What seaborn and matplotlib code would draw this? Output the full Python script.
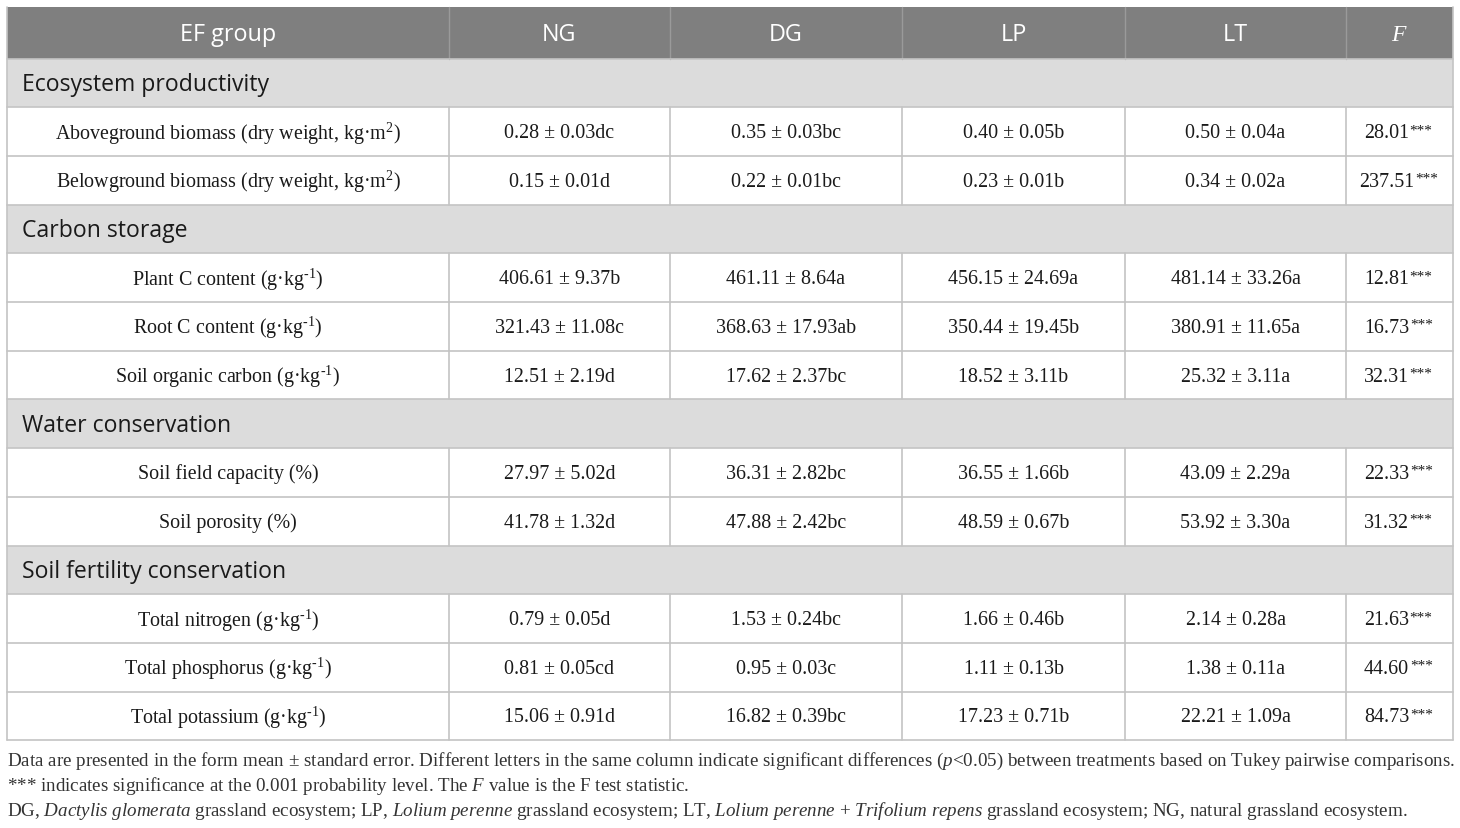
import matplotlib.pyplot as plt
import seaborn as sns
from matplotlib.patches import Rectangle

# table content
columns = ["EF group", "NG", "DG", "LP", "LT", "$\\mathit{F}$"]
groups = ["Ecosystem productivity", "Carbon storage", "Water conservation",
          "Soil fertility conservation"]
group_sizes = [2, 3, 2, 3]
indicators = [
    "Aboveground biomass (dry weight, kg·m$^{2}$)",
    "Belowground biomass (dry weight, kg·m$^{2}$)",
    "Plant C content (g·kg$^{\\text{-1}}$)",
    "Root C content (g·kg$^{\\text{-1}}$)",
    "Soil organic carbon (g·kg$^{\\text{-1}}$)",
    "Soil field capacity (%)",
    "Soil porosity (%)",
    "Total nitrogen (g·kg$^{\\text{-1}}$)",
    "Total phosphorus (g·kg$^{\\text{-1}}$)",
    "Total potassium (g·kg$^{\\text{-1}}$)",
]
ng = ["0.28 ± 0.03dc", "0.15 ± 0.01d", "406.61 ± 9.37b", "321.43 ± 11.08c", "12.51 ± 2.19d",
      "27.97 ± 5.02d", "41.78 ± 1.32d", "0.79 ± 0.05d", "0.81 ± 0.05cd", "15.06 ± 0.91d"]
dg = ["0.35 ± 0.03bc", "0.22 ± 0.01bc", "461.11 ± 8.64a", "368.63 ± 17.93ab", "17.62 ± 2.37bc",
      "36.31 ± 2.82bc", "47.88 ± 2.42bc", "1.53 ± 0.24bc", "0.95 ± 0.03c", "16.82 ± 0.39bc"]
lp = ["0.40 ± 0.05b", "0.23 ± 0.01b", "456.15 ± 24.69a", "350.44 ± 19.45b", "18.52 ± 3.11b",
      "36.55 ± 1.66b", "48.59 ± 0.67b", "1.66 ± 0.46b", "1.11 ± 0.13b", "17.23 ± 0.71b"]
lt = ["0.50 ± 0.04a", "0.34 ± 0.02a", "481.14 ± 33.26a", "380.91 ± 11.65a", "25.32 ± 3.11a",
      "43.09 ± 2.29a", "53.92 ± 3.30a", "2.14 ± 0.28a", "1.38 ± 0.11a", "22.21 ± 1.09a"]
f_vals = ["28.01", "237.51", "12.81", "16.73", "32.31", "22.33", "31.32", "21.63", "44.60", "84.73"]
f_sig = "***"

footnotes = [
    "Data are presented in the form mean ± standard error. Different letters in the same column "
    "indicate significant differences ($\\mathit{p}$<0.05) between treatments based on Tukey pairwise comparisons.",
    "*** indicates significance at the 0.001 probability level. The $\\mathit{F}$ value is the F test statistic.",
    "DG, $\\mathit{Dactylis\\ glomerata}$ grassland ecosystem; LP, $\\mathit{Lolium\\ perenne}$ grassland ecosystem; "
    "LT, $\\mathit{Lolium\\ perenne}$ + $\\mathit{Trifolium\\ repens}$ grassland ecosystem; NG, natural grassland ecosystem.",
]

sns.set_theme(style="white")
plt.rcParams["mathtext.fontset"] = "custom"
plt.rcParams["mathtext.rm"] = "Liberation Serif"
plt.rcParams["mathtext.it"] = "Liberation Serif:italic"

HEADER_BG = "#7f7f7f"
GROUP_BG = "#dcdcdc"
LINE = "#c4c4c4"
TEXT = "#1a1a1a"

col_x = [7, 449, 670, 902, 1125, 1346, 1453]
top = 7.5
header_h = 52
row_h = 48.7

fig = plt.figure(figsize=(14.6, 8.29), dpi=100)
ax = fig.add_axes([0, 0, 1, 1])
ax.set_xlim(0, 1460)
ax.set_ylim(829, 0)
ax.axis("off")

left, right = col_x[0], col_x[-1]

# header row
ax.add_patch(Rectangle((left, top), right - left, header_h, fc=HEADER_BG, ec="none"))
for i, name in enumerate(columns):
    cx = (col_x[i] + col_x[i + 1]) / 2
    ax.text(cx, top + header_h / 2 + 1, name, ha="center", va="center", color="white",
            fontsize=16.8 if i < 5 else 17, family="Open Sans")
    if 0 < i:
        ax.plot([col_x[i], col_x[i]], [top, top + header_h], color="#9a9a9a", lw=1)

y = top + header_h
k = 0
for g, n in zip(groups, group_sizes):
    ax.add_patch(Rectangle((left, y), right - left, row_h, fc=GROUP_BG, ec="none"))
    ax.text(left + 15, y + row_h / 2 + 1, g, ha="left", va="center", color=TEXT,
            fontsize=16.6, family="Open Sans")
    ax.plot([left, right], [y, y], color=LINE, lw=1.2)
    y += row_h
    for _ in range(n):
        ax.plot([left, right], [y, y], color=LINE, lw=1.2)
        cells = [indicators[k], ng[k], dg[k], lp[k], lt[k]]
        for i, txt in enumerate(cells):
            cx = (col_x[i] + col_x[i + 1]) / 2
            ax.text(cx, y + row_h / 2 + 1, txt, ha="center", va="center", color=TEXT,
                    fontsize=14.4, family="Liberation Serif")
        # F value with superscript stars
        cx = (col_x[5] + col_x[6]) / 2
        num = ax.text(cx - 13, y + row_h / 2 + 1, f_vals[k], ha="center", va="center",
                      color=TEXT, fontsize=14.4, family="Liberation Serif")
        ax.annotate(f_sig, xy=(1, 1), xycoords=num, xytext=(0.5, 0), textcoords="offset points",
                    ha="left", va="top", color=TEXT, fontsize=11, family="Liberation Serif")
        for xv in col_x[1:-1]:
            ax.plot([xv, xv], [y, y + row_h], color=LINE, lw=1.2)
        y += row_h
        k += 1

bottom = y
ax.plot([left, right], [bottom, bottom], color=LINE, lw=1.2)
ax.plot([left, left], [top, bottom], color=LINE, lw=1.2)
ax.plot([right, right], [top, bottom], color=LINE, lw=1.2)

# footnotes
for j, note in enumerate(footnotes):
    ax.text(left, 761 + j * 25, note, ha="left", va="center", color="#333333",
            fontsize=13.7, family="Liberation Serif")

fig.savefig("out.png", dpi=100)
